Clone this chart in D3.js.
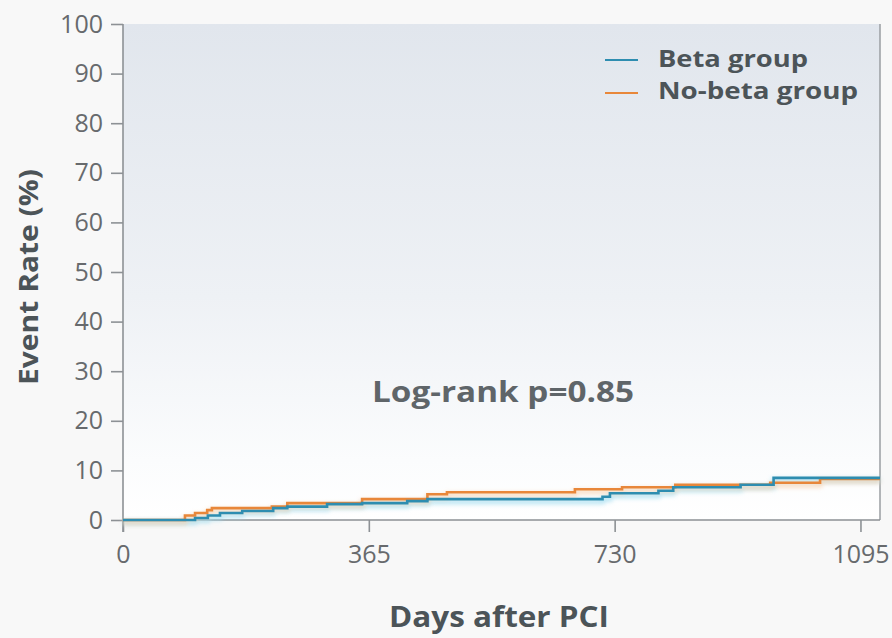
<!DOCTYPE html>
<html>
<head>
<meta charset="utf-8">
<script src="https://cdn.jsdelivr.net/npm/d3@7"></script>
<style>
  html, body { margin: 0; padding: 0; background: #f8f8f8; }
  svg { display: block; }
</style>
</head>
<body>
<svg id="chart" width="892" height="638"></svg>
<script>
// Cumulative event rate (%) by days after PCI, step changes per group
const betaDays   = [0, 107, 126, 144, 177, 223, 244, 303, 355, 422, 452, 712, 723, 795, 817, 917, 966, 1124];
const betaRate   = [0, 0.4, 0.9, 1.4, 1.8, 2.4, 2.7, 3.2, 3.4, 3.8, 4.2, 4.7, 5.4, 5.9, 6.6, 7.1, 8.5, 8.5];
const noBetaDays = [0, 92, 107, 125, 132, 221, 244, 355, 452, 481, 671, 741, 820, 961, 1035, 1124];
const noBetaRate = [0, 0.9, 1.4, 2.0, 2.4, 2.7, 3.4, 4.2, 5.2, 5.6, 6.2, 6.6, 7.1, 7.5, 8.3, 8.3];

const xTicks = [0, 365, 730, 1095];
const yTicks = [0, 10, 20, 30, 40, 50, 60, 70, 80, 90, 100];
const seriesNames = ["Beta group", "No-beta group"];
const seriesColors = ["#2e8db0", "#e8873a"];
const pValueText = "Log-rank p=0.85";
const xTitle = "Days after PCI";
const yTitle = "Event Rate (%)";

const svg = d3.select("#chart");
const plotL = 123, plotR = 880, plotT = 24, plotB = 520;

const x = d3.scaleLinear().domain([0, 1124]).range([plotL, plotR]);
const y = d3.scaleLinear().domain([0, 100]).range([plotB, plotT]);

const defs = svg.append("defs");
const grad = defs.append("linearGradient")
  .attr("id", "plotBg").attr("x1", 0).attr("y1", 0).attr("x2", 0).attr("y2", 1);
grad.append("stop").attr("offset", "0%").attr("stop-color", "#e1e6ed");
grad.append("stop").attr("offset", "55%").attr("stop-color", "#eef1f5");
grad.append("stop").attr("offset", "88%").attr("stop-color", "#fbfcfd");
grad.append("stop").attr("offset", "100%").attr("stop-color", "#ffffff");

// soft glow beneath the curves
const glow = defs.append("filter").attr("id", "glow")
  .attr("x", "-5%").attr("y", "-50%").attr("width", "110%").attr("height", "300%");
glow.append("feGaussianBlur").attr("stdDeviation", 2.2);

// plot panel
svg.append("rect")
  .attr("x", plotL).attr("y", plotT)
  .attr("width", plotR - plotL).attr("height", plotB - plotT)
  .attr("fill", "url(#plotBg)");

// right frame line
svg.append("line")
  .attr("x1", plotR).attr("x2", plotR).attr("y1", plotT).attr("y2", plotB)
  .attr("stroke", "#9a9ea2").attr("stroke-width", 1.5);

// axes
const yAxis = svg.append("g")
  .attr("transform", `translate(${plotL},0)`)
  .call(d3.axisLeft(y).tickValues(yTicks).tickFormat(d3.format("d"))
    .tickSize(12).tickPadding(8));
const xAxis = svg.append("g")
  .attr("transform", `translate(0,${plotB})`)
  .call(d3.axisBottom(x).tickValues(xTicks).tickFormat(d3.format("d"))
    .tickSize(12).tickPadding(13));

[yAxis, xAxis].forEach(g => {
  g.select(".domain").attr("stroke", "#8d9195").attr("stroke-width", 1.6);
  g.selectAll(".tick line").attr("stroke", "#8d9195").attr("stroke-width", 1.6);
  g.selectAll("text")
    .attr("fill", "#676a6d")
    .attr("font-family", "'Open Sans', sans-serif")
    .attr("font-size", 25);
});
yAxis.select(".domain").attr("d", `M0,${plotT}V${plotB + 12}`);
xAxis.select(".domain").attr("d", `M${plotL},0H${plotR}`);

// curves
const series = [
  { days: betaDays, rate: betaRate },
  { days: noBetaDays, rate: noBetaRate }
];
const line = d3.line()
  .x(d => x(d[0])).y(d => y(d[1]))
  .curve(d3.curveStepAfter);

series.forEach((s, i) => {
  const pts = s.days.map((d, k) => [d, s.rate[k]]);
  svg.append("path")
    .attr("d", line(pts))
    .attr("fill", "none")
    .attr("stroke", i === 0 ? "#9fdcf0" : "#f6d2b0")
    .attr("stroke-width", 5)
    .attr("opacity", 0.7)
    .attr("transform", "translate(0,2.5)")
    .attr("filter", "url(#glow)");
});
series.slice().reverse().forEach((s, j) => {
  const i = series.length - 1 - j;
  const pts = s.days.map((d, k) => [d, s.rate[k]]);
  svg.append("path")
    .attr("d", line(pts))
    .attr("fill", "none")
    .attr("stroke", seriesColors[i])
    .attr("stroke-width", 2.6);
});

// p-value annotation
svg.append("text")
  .attr("x", 372).attr("y", 402)
  .attr("font-family", "'Open Sans', sans-serif")
  .attr("font-weight", 700).attr("font-size", 29)
  .attr("fill", "#5f6569")
  .attr("textLength", 262).attr("lengthAdjust", "spacingAndGlyphs")
  .text(pValueText);

// legend
const legendRows = [{ y: 67, lineY: 60, w: 150 }, { y: 99, lineY: 93, w: 200 }];
seriesNames.forEach((name, i) => {
  const r = legendRows[i];
  svg.append("line")
    .attr("x1", 605).attr("x2", 638).attr("y1", r.lineY).attr("y2", r.lineY)
    .attr("stroke", seriesColors[i]).attr("stroke-width", 2.2);
  svg.append("text")
    .attr("x", 658).attr("y", r.y)
    .attr("font-family", "'Open Sans', sans-serif")
    .attr("font-weight", 700).attr("font-size", 23)
    .attr("fill", "#4c5458")
    .attr("textLength", r.w).attr("lengthAdjust", "spacingAndGlyphs")
    .text(name);
});

// axis titles
svg.append("text")
  .attr("x", 499).attr("y", 627)
  .attr("text-anchor", "middle")
  .attr("font-family", "'Open Sans', sans-serif")
  .attr("font-weight", 700).attr("font-size", 28)
  .attr("fill", "#4c5458")
  .attr("textLength", 220).attr("lengthAdjust", "spacingAndGlyphs")
  .text(xTitle);

svg.append("text")
  .attr("transform", "translate(38,277) rotate(-90)")
  .attr("text-anchor", "middle")
  .attr("font-family", "'Open Sans', sans-serif")
  .attr("font-weight", 700).attr("font-size", 27)
  .attr("fill", "#4c5458")
  .attr("textLength", 216).attr("lengthAdjust", "spacingAndGlyphs")
  .text(yTitle);
</script>
</body>
</html>
